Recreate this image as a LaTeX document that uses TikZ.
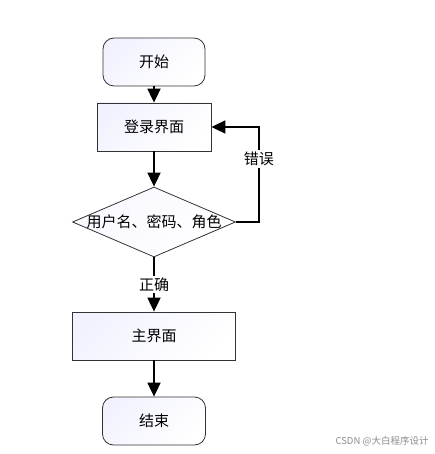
\documentclass[tikz,border=0pt]{standalone}
\usepackage{fontspec}
\setmainfont{Noto Sans CJK SC}
\usetikzlibrary{arrows.meta,shapes.geometric}

\begin{document}
\begin{tikzpicture}[
  x=1pt, y=-1pt,
  font=\fontsize{15}{18}\selectfont,
  every node/.style={inner sep=0pt},
  term/.style={
    draw=black!80, rounded corners=11pt, line width=0.8pt,
    minimum width=102pt, minimum height=48pt,
    top color=blue!5, bottom color=white, shading angle=45,
  },
  proc/.style={
    draw=black!80, line width=0.8pt,
    minimum width=114pt, minimum height=48pt,
    top color=blue!5, bottom color=white, shading angle=45,
  },
  decision/.style={
    draw=black!80, diamond, line width=0.8pt,
    minimum width=163pt, minimum height=70pt,
    top color=blue!3, bottom color=white, shading angle=45,
  },
  lbl/.style={fill=white, inner sep=2pt},
  flow/.style={-{Triangle[length=14pt, width=13pt]}, line width=1.8pt, draw=black},
]
\useasboundingbox (0,0) rectangle (435,454);

% ===== NODES =====
\node[term] (start) at (154, 62) {开始};
\node[proc] (login) at (154, 127) {登录界面};
\node[decision, label={center:用户名、密码、角色}] (check) at (154, 222) {};
\node[proc, minimum width=163pt] (main) at (154, 336) {主界面};
\node[term, minimum width=103pt] (stop) at (154, 421) {结束};

% ===== ARROWS =====
\draw[flow] (start.south) -- (login.north);
\draw[flow] (login.south) -- (check.north);
\draw[flow] (check.east) -- ++(23,0) |- node[pos=0.33, lbl] {错误} (login.east);
\draw[flow] (check.south) -- node[lbl] {正确} (main.north);
\draw[flow] (main.south) -- (stop.north);

% ===== WATERMARK =====
\node[font=\fontsize{9.5}{11}\selectfont, text=black!45] (mark) at (382, 441) {CSDN @大白程序设计};

\end{tikzpicture}
\end{document}
